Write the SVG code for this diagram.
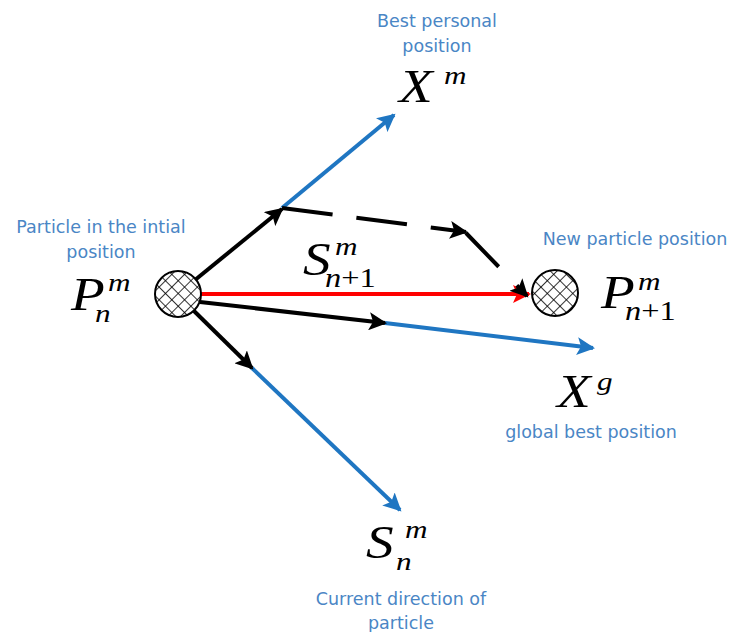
<svg xmlns="http://www.w3.org/2000/svg" width="732" height="632" viewBox="0 0 732 632">
<style>
.lbl{font-family:"DejaVu Sans",sans-serif;font-size:17.5px;fill:#4a86c5;text-anchor:middle}
.m{font-family:"Liberation Serif","Times New Roman",serif;font-style:italic;fill:#000}
.big{font-size:46px}
.sm{font-size:26px}
.sm2{font-size:27px}
.up{font-style:normal}
.blk{stroke:#000;stroke-width:4;fill:none}
.blu{stroke:#1f76c2;stroke-width:4;fill:none}
.red{stroke:#ff0000;stroke-width:4;fill:none}
.dash{stroke:#000;stroke-width:4;fill:none;stroke-dasharray:51 24}
.dash2{stroke:#000;stroke-width:4;fill:none;stroke-dasharray:47 26}
.ptc{fill:url(#hatch);stroke:#000;stroke-width:2}
</style>
<defs>
<pattern id="hatch" width="9" height="9" patternUnits="userSpaceOnUse" patternTransform="rotate(45)">
<rect width="9" height="9" fill="#fff"/>
<line x1="0" y1="0" x2="0" y2="9" stroke="#000" stroke-width="1.6"/>
<line x1="0" y1="0" x2="9" y2="0" stroke="#000" stroke-width="1.6"/>
</pattern>
<marker id="ak" markerUnits="userSpaceOnUse" markerWidth="19" markerHeight="18" refX="16" refY="9" orient="auto">
<path d="M0,0 L18,9 L0,18 L4,9 z" fill="#000"/>
</marker>
<marker id="ab" markerUnits="userSpaceOnUse" markerWidth="19" markerHeight="18" refX="16" refY="9" orient="auto">
<path d="M0,0 L18,9 L0,18 L4,9 z" fill="#1f76c2"/>
</marker>
<marker id="ar" markerUnits="userSpaceOnUse" markerWidth="19" markerHeight="18" refX="16" refY="9" orient="auto">
<path d="M0,0 L18,9 L0,18 L4,9 z" fill="#ff0000"/>
</marker>
</defs>
<g id="connectors">
<line class="blu" x1="282" y1="208" x2="394" y2="115" marker-end="url(#ab)"/>
<line class="blk" x1="195" y1="280" x2="282" y2="209" marker-end="url(#ak)"/>
<line class="blu" x1="385" y1="323" x2="593" y2="348" marker-end="url(#ab)"/>
<line class="blk" x1="200" y1="302" x2="385" y2="323" marker-end="url(#ak)"/>
<line class="blu" x1="252" y1="368" x2="400" y2="510" marker-end="url(#ab)"/>
<line class="blk" x1="193" y1="310" x2="252" y2="368" marker-end="url(#ak)"/>
<line class="red" x1="201" y1="294" x2="529" y2="294" marker-end="url(#ar)"/>
<line class="dash" x1="282" y1="208" x2="466" y2="232" marker-end="url(#ak)"/>
<line class="dash2" x1="466" y1="233" x2="527" y2="296" marker-end="url(#ak)"/>
</g>
<g id="particle-initial">
<circle class="ptc" cx="178" cy="294" r="23"/>
<text class="lbl" x="101" y="233">Particle in the intial</text>
<text class="lbl" x="101" y="258">position</text>
<text class="m big" transform="translate(71,310) scale(1.2,1)">P</text>
<text class="m sm" transform="translate(108,291) scale(1.2,1)">m</text>
<text class="m sm" transform="translate(95,322) scale(1.2,1)">n</text>
</g>
<g id="particle-new">
<circle class="ptc" cx="555" cy="293" r="23"/>
<text class="lbl" x="635" y="245">New particle position</text>
<text class="m big" transform="translate(601,308) scale(1.2,1)">P</text>
<text class="m sm" transform="translate(638,290) scale(1.2,1)">m</text>
<text class="m sm2" transform="translate(625,320) scale(1.2,1)">n<tspan class="up">+1</tspan></text>
</g>
<g id="best-personal">
<text class="lbl" x="437" y="27">Best personal</text>
<text class="lbl" x="437" y="52">position</text>
<text class="m big" transform="translate(399,102) scale(1.2,1)">X</text>
<text class="m sm" transform="translate(444,84) scale(1.2,1)">m</text>
</g>
<g id="global-best">
<text class="m big" transform="translate(557,407) scale(1.2,1)">X</text>
<text class="m sm" transform="translate(597,390) scale(1.2,1)">g</text>
<text class="lbl" x="591" y="438">global best position</text>
</g>
<g id="velocity-new">
<text class="m big" transform="translate(303,275) scale(1.2,1)">S</text>
<text class="m sm" transform="translate(335,255) scale(1.2,1)">m</text>
<text class="m sm2" transform="translate(325,287) scale(1.2,1)">n<tspan class="up">+1</tspan></text>
</g>
<g id="current-direction">
<text class="m big" transform="translate(366,558) scale(1.2,1)">S</text>
<text class="m sm" transform="translate(405,538) scale(1.2,1)">m</text>
<text class="m sm" transform="translate(396,570) scale(1.2,1)">n</text>
<text class="lbl" x="401" y="605">Current direction of</text>
<text class="lbl" x="401" y="629">particle</text>
</g>
</svg>
